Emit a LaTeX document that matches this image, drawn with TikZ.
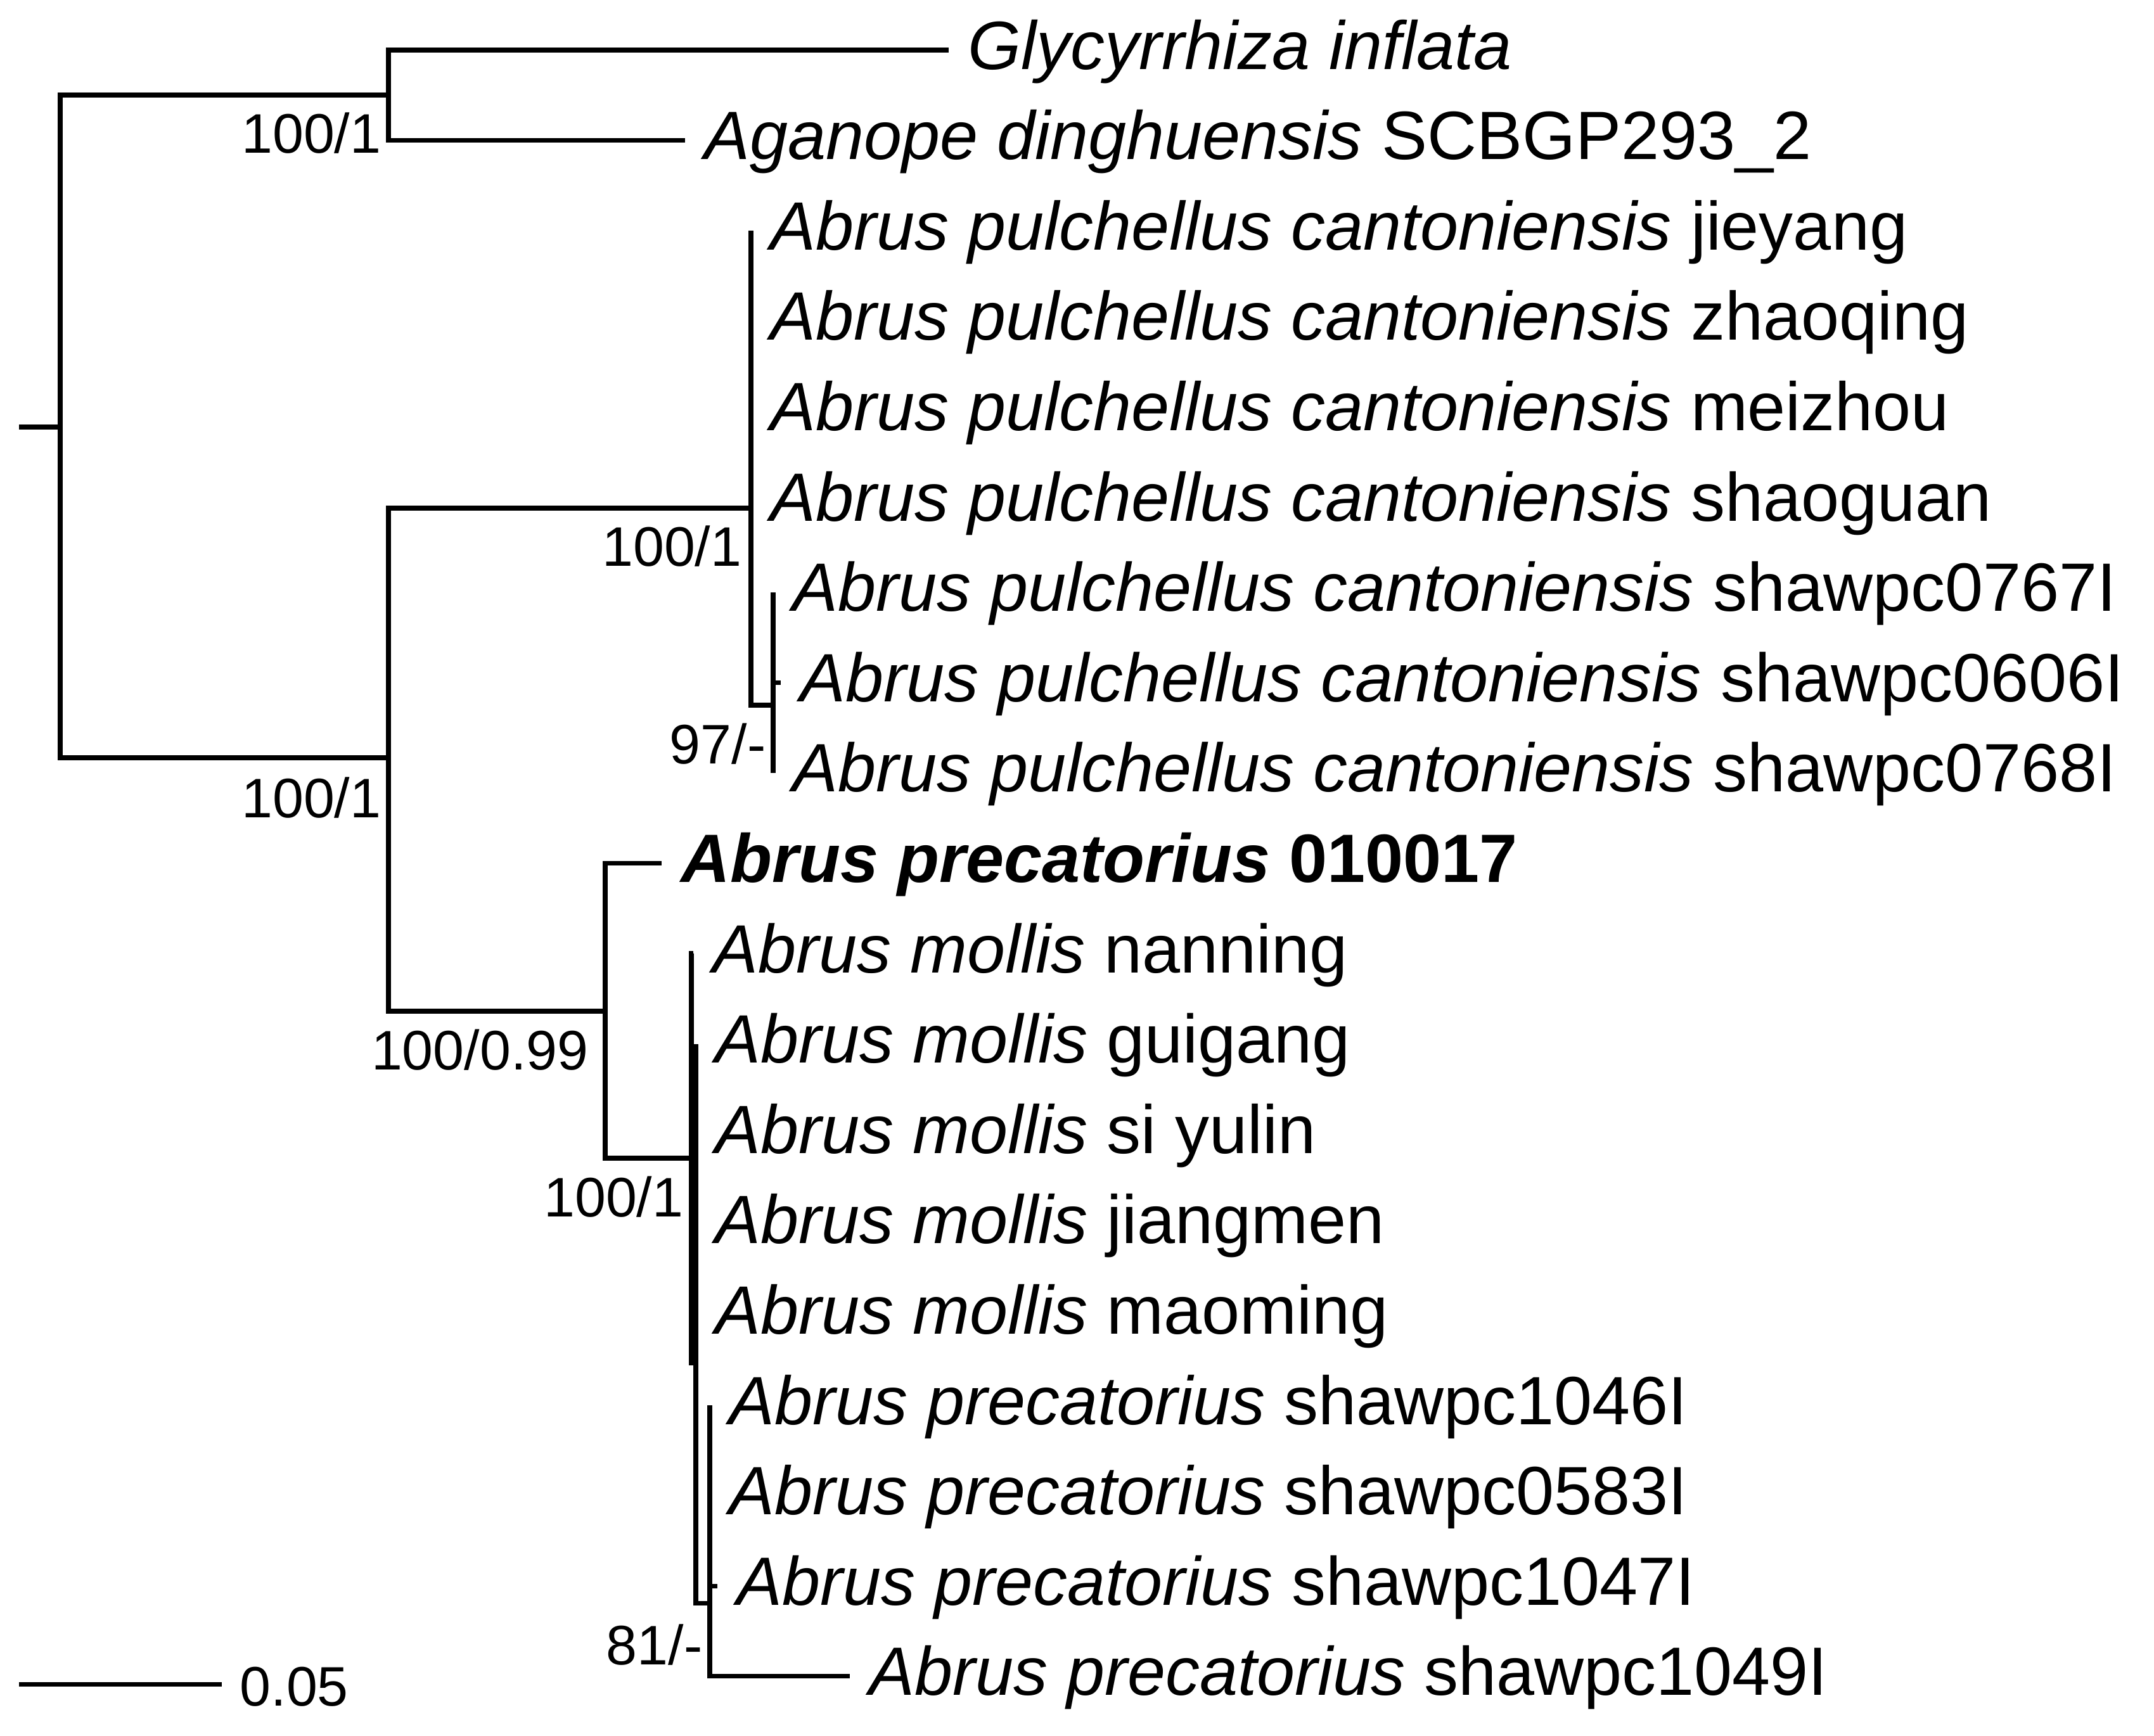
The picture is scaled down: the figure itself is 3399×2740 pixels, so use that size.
\documentclass[tikz,border=0pt]{standalone}
\usepackage{fontspec}
\setmainfont{Liberation Sans}
\tikzset{
	tmp/.style = {coordinate},
	branch/.style = {line width=2pt},
	taxon/.style = {anchor=base west, inner sep=0pt, xshift=0.3cm, yshift=-0.3cm, font=\fontsize{30.7}{36}\selectfont},
	support/.style = {anchor=base east, inner sep=0pt, font=\fontsize{25}{30}\selectfont}
}

\begin{document}
\begin{tikzpicture}[x=0.01cm, y=-0.01cm]
	\useasboundingbox (0,0) rectangle (3399,2740);
	% ========================== Nodes ============================
	% Inner nodes of the tree
	\node [tmp] (rin) at (30,674) {};
	\node [tmp] (root) at (95,674) {};
	\node [tmp] (nTop) at (613,150) {};
	\node [tmp] (nLow) at (613,1196) {};
	\node [tmp] (nPul) at (1185,802) {};
	\node [tmp] (nPulSub) at (1220,1113) {};
	\node [tmp] (nPrec) at (955,1596) {};
	\node [tmp] (nMol) at (1091,1828) {};
	\node [tmp] (nMol2) at (1098,2151) {};
	\node [tmp] (nPSub) at (1120,2530) {};

	% Tips
	\node [tmp] (tGly) at (1497,79) {};
	\node [tmp] (tAga) at (1081,221.6) {};
	\node [tmp] (tJie) at (1185,364.2) {};
	\node [tmp] (tZha) at (1185,506.8) {};
	\node [tmp] (tMei) at (1185,649.4) {};
	\node [tmp] (tSha) at (1185,792) {};
	\node [tmp] (t0767) at (1220,934.6) {};
	\node [tmp] (t0606) at (1232,1077.2) {};
	\node [tmp] (t0768) at (1220,1219.8) {};
	\node [tmp] (t0017) at (1044,1362.4) {};
	\node [tmp] (tNan) at (1094,1505) {};
	\node [tmp] (tGui) at (1098,1647.6) {};
	\node [tmp] (tSiy) at (1098,1790.2) {};
	\node [tmp] (tJia) at (1098,1932.8) {};
	\node [tmp] (tMao) at (1098,2075.4) {};
	\node [tmp] (t1046) at (1120,2218) {};
	\node [tmp] (t0583) at (1120,2360.6) {};
	\node [tmp] (t1047) at (1132,2503.2) {};
	\node [tmp] (t1049) at (1341,2645.8) {};

	% Taxon names
	\node [taxon] (lGly) at (tGly) {\textit{Glycyrrhiza inflata}};
	\node [taxon] (lAga) at (tAga) {\textit{Aganope dinghuensis} SCBGP293\_2};
	\node [taxon] (lJie) at (tJie) {\textit{Abrus pulchellus cantoniensis} jieyang};
	\node [taxon] (lZha) at (tZha) {\textit{Abrus pulchellus cantoniensis} zhaoqing};
	\node [taxon] (lMei) at (tMei) {\textit{Abrus pulchellus cantoniensis} meizhou};
	\node [taxon] (lSha) at (tSha) {\textit{Abrus pulchellus cantoniensis} shaoguan};
	\node [taxon] (l0767) at (t0767) {\textit{Abrus pulchellus cantoniensis} shawpc0767I};
	\node [taxon] (l0606) at (t0606) {\textit{Abrus pulchellus cantoniensis} shawpc0606I};
	\node [taxon] (l0768) at (t0768) {\textit{Abrus pulchellus cantoniensis} shawpc0768I};
	\node [taxon] (l0017) at (t0017) {\textbf{\textit{Abrus precatorius} 010017}};
	\node [taxon] (lNan) at (tNan) {\textit{Abrus mollis} nanning};
	\node [taxon] (lGui) at (tGui) {\textit{Abrus mollis} guigang};
	\node [taxon] (lSiy) at (tSiy) {\textit{Abrus mollis} si yulin};
	\node [taxon] (lJia) at (tJia) {\textit{Abrus mollis} jiangmen};
	\node [taxon] (lMao) at (tMao) {\textit{Abrus mollis} maoming};
	\node [taxon] (l1046) at (t1046) {\textit{Abrus precatorius} shawpc1046I};
	\node [taxon] (l0583) at (t0583) {\textit{Abrus precatorius} shawpc0583I};
	\node [taxon] (l1047) at (t1047) {\textit{Abrus precatorius} shawpc1047I};
	\node [taxon] (l1049) at (t1049) {\textit{Abrus precatorius} shawpc1049I};

	% Support values
	\node [support, xshift=-0.11cm, yshift=-0.91cm] (sTop) at (nTop) {100/1};
	\node [support, xshift=-0.11cm, yshift=-0.94cm] (sLow) at (nLow) {100/1};
	\node [support, xshift=-0.14cm, yshift=-0.91cm] (sPul) at (nPul) {100/1};
	\node [support, xshift=-0.11cm, yshift=-0.92cm] (sPulSub) at (nPulSub) {97/-};
	\node [support, xshift=-0.26cm, yshift=-0.92cm] (sPrec) at (nPrec) {100/0.99};
	\node [support, xshift=-0.12cm, yshift=-0.92cm] (sMol) at (nMol) {100/1};
	\node [support, xshift=-0.11cm, yshift=-0.97cm] (sPSub) at (nPSub) {81/-};

	% Scale bar
	\node [tmp] (barL) at (30,2658) {};
	\node [tmp] (barR) at (350,2658) {};
	\node [support, anchor=base west] (barTxt) at (378,2692) {0.05};

	% ========================== Lines ============================
	\draw [branch] (rin) -- (root);
	\draw [branch] (root) |- (nTop);
	\draw [branch] (root) |- (nLow);

	% Outgroup
	\draw [branch] (nTop) |- (tGly);
	\draw [branch] (nTop) |- (tAga);

	% Abrus pulchellus cantoniensis
	\draw [branch] (nLow) |- (nPul);
	\draw [branch] (nPul) |- (tJie);
	\draw [branch] (nPul) |- (tZha);
	\draw [branch] (nPul) |- (tMei);
	\draw [branch] (nPul) |- (tSha);
	\draw [branch] (nPul) |- (nPulSub);
	\draw [branch] (nPulSub) |- (t0767);
	\draw [branch] (nPulSub) |- (t0606);
	\draw [branch] (nPulSub) |- (t0768);

	% Abrus precatorius and Abrus mollis
	\draw [branch] (nLow) |- (nPrec);
	\draw [branch] (nPrec) |- (t0017);
	\draw [branch] (nPrec) |- (nMol);
	\draw [branch] (nMol) |- (tNan);
	\draw [branch] (nMol) |- (nMol2);
	\draw [branch] (nMol2) |- (tGui);
	\draw [branch] (nMol2) |- (tSiy);
	\draw [branch] (nMol2) |- (tJia);
	\draw [branch] (nMol2) |- (tMao);
	\draw [branch] (nMol2) |- (nPSub);
	\draw [branch] (nPSub) |- (t1046);
	\draw [branch] (nPSub) |- (t0583);
	\draw [branch] (nPSub) |- (t1047);
	\draw [branch] (nPSub) |- (t1049);

	\draw [branch] (barL) -- (barR);
\end{tikzpicture}
\end{document}
